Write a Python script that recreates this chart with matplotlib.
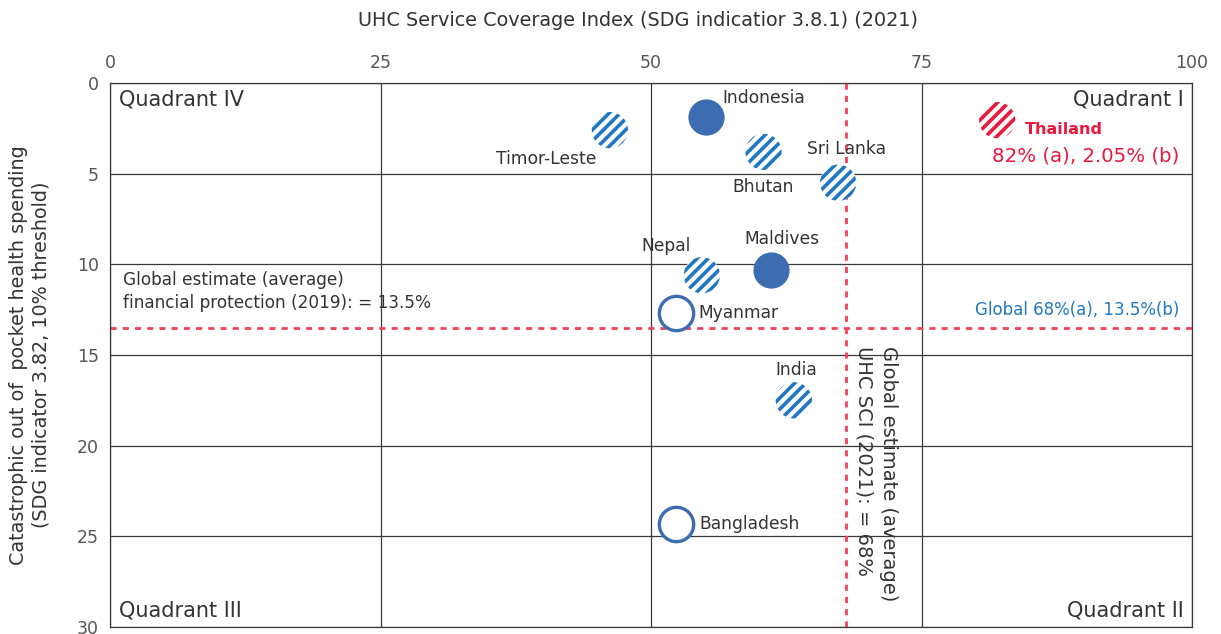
import matplotlib
matplotlib.use("Agg")
import matplotlib.pyplot as plt

plt.rcParams['font.family'] = ['DejaVu Sans']
plt.rcParams['hatch.linewidth'] = 2.6

# ---- data ----
countries = ["Thailand", "Indonesia", "Timor-Leste", "Bhutan", "Sri Lanka",
             "Maldives", "Nepal", "Myanmar", "India", "Bangladesh"]
uhc_sci = [82, 55.1, 46.2, 60.4, 67.3, 61.1, 54.7, 52.3, 63.2, 52.3]
catastrophic = [2.05, 1.9, 2.6, 3.8, 5.5, 10.3, 10.6, 12.7, 17.5, 24.3]
styles = ["red_hatch", "solid", "hatch", "hatch", "hatch",
          "solid", "hatch", "open", "hatch", "open"]
global_uhc = 68
global_fin = 13.5
x_ticks = [0, 25, 50, 75, 100]
y_ticks = [0, 5, 10, 15, 20, 25, 30]

# label placement (offset in points, alignment)
label_pos = {
    "Thailand": (20, -7, "left"),
    "Indonesia": (12, 14, "left"),
    "Timor-Leste": (-10, -21, "right"),
    "Bhutan": (0, -25, "center"),
    "Sri Lanka": (6, 24, "center"),
    "Maldives": (8, 22, "center"),
    "Nepal": (-26, 21, "center"),
    "Myanmar": (16, 0, "left"),
    "India": (2, 22, "center"),
    "Bangladesh": (17, 0, "left"),
}

BLUE_H = "#1f78c1"
BLUE_S = "#3c6db1"
RED = "#e8193c"
DASH = "#f2415a"
GRID = "#3a3a3a"
TXT = "#333333"

fig = plt.figure(figsize=(12.21, 6.34), dpi=100)
ax = fig.add_axes([110/1221, 1-627/634, (1192-110)/1221, (627-83)/634])

ax.set_xlim(0, 100)
ax.set_ylim(30, 0)
ax.xaxis.tick_top()
ax.set_xticks(x_ticks)
ax.set_yticks(y_ticks)
ax.tick_params(length=0, labelsize=12.5, colors="#555555", pad=8)
ax.grid(True, color=GRID, lw=0.9)
for s in ax.spines.values():
    s.set_color(GRID)
    s.set_linewidth(0.9)

ax.axvline(global_uhc, color=DASH, lw=2, ls=(0, (2.2, 2.2)), zorder=2)
ax.axhline(global_fin, color=DASH, lw=2, ls=(0, (2.2, 2.2)), zorder=2)

S = 680
for c, x, y, st in zip(countries, uhc_sci, catastrophic, styles):
    if st == "solid":
        ax.scatter([x], [y], s=S, color=BLUE_S, lw=0, zorder=3)
    elif st == "open":
        ax.scatter([x], [y], s=S * 0.9, facecolor="white", edgecolor=BLUE_S, lw=2.4, zorder=3)
    else:
        col = RED if st == "red_hatch" else BLUE_H
        ax.scatter([x], [y], s=S, facecolor="white", edgecolor=col, hatch="///",
                   lw=0, zorder=3)
    dx, dy, ha = label_pos[c]
    if c == "Thailand":
        ax.annotate(c, (x, y), xytext=(dx, dy), textcoords="offset points",
                    ha=ha, va="center", fontsize=11.5, color=RED, fontweight="bold")
    else:
        ax.annotate(c, (x, y), xytext=(dx, dy), textcoords="offset points",
                    ha=ha, va="center", fontsize=12.3, color=TXT)

ax.text(98.8, 4.0, "82% (a), 2.05% (b)", ha="right", va="center", fontsize=14.2, color=RED)
ax.text(98.8, 12.5, "Global 68%(a), 13.5%(b)", ha="right", va="center", fontsize=12, color=BLUE_H)

ax.text(1.2, 11.5, "Global estimate (average)\nfinancial protection (2019): = 13.5%",
        ha="left", va="center", fontsize=12.2, color=TXT, linespacing=1.4)
ax.text(70.8, 14.5, "Global estimate (average)\nUHC SCI (2021): = 68%", rotation=270,
        ha="center", va="top", fontsize=14, color=TXT, multialignment="left", linespacing=1.35)

qfs = 15
ax.text(0.8, 0.9, "Quadrant IV", ha="left", va="center", fontsize=qfs, color=TXT)
ax.text(99.2, 0.9, "Quadrant I", ha="right", va="center", fontsize=qfs, color=TXT)
ax.text(0.8, 29.1, "Quadrant III", ha="left", va="center", fontsize=qfs, color=TXT)
ax.text(99.2, 29.1, "Quadrant II", ha="right", va="center", fontsize=qfs, color=TXT)

fig.text(638/1221, 1-20/634, "UHC Service Coverage Index (SDG indicatior 3.8.1) (2021)",
         ha="center", va="center", fontsize=13.9, color=TXT)
fig.text(30/1221, 1-355/634,
         "Catastrophic out of  pocket health spending\n(SDG indicator 3.82, 10% threshold)",
         ha="center", va="center", rotation=90, fontsize=13.8, color=TXT, linespacing=1.2)

fig.savefig("out.png", dpi=100)
